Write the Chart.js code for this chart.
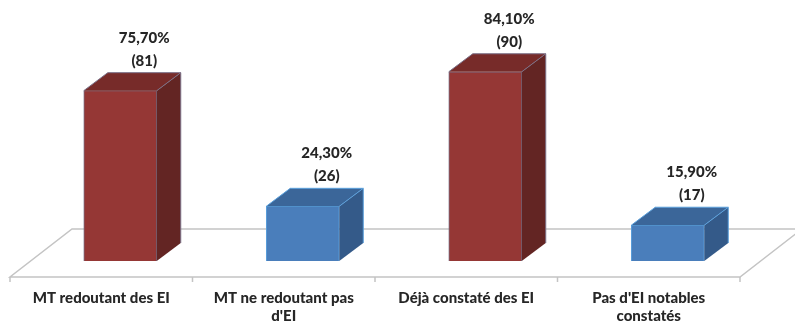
<!DOCTYPE html>
<html>
<head>
<meta charset="utf-8">
<script src="https://cdn.jsdelivr.net/npm/chart.js@4"></script>
<style>
  html, body { margin: 0; padding: 0; background: #fff; }
  #wrap { width: 795px; height: 322px; }
</style>
</head>
<body>
<div id="wrap"><canvas id="barChart" width="795" height="322"></canvas></div>
<script>
const categories = [
  ['MT redoutant des EI'],
  ['MT ne redoutant pas', "d'EI"],
  ['Déjà constaté des EI'],
  ["Pas d'EI notables", 'constatés']
];
const percents = [75.7, 24.3, 84.1, 15.9];
const counts = [81, 26, 90, 17];

// front / top / side shades per bar
const frontColors = ['#953735', '#4a7ebb', '#953735', '#4a7ebb'];
const topColors = ['#772b29', '#3b6699', '#772b29', '#3b6699'];
const sideColors = ['#632523', '#345a89', '#632523', '#345a89'];
const edgeColors = ['#7a6f86', '#5aa0dc', '#7a6f86', '#5aa0dc'];

const DEPTH_X = 24, DEPTH_Y = -18;      // bar extrusion
const FLOOR_FRONT = { x: -19, y: 16 };  // floor front edge vs bar base
const FLOOR_BACK = { x: 43, y: -32 };   // floor back edge vs bar base
const FONT = '900 15px Lato, "Liberation Sans", sans-serif';
const TEXT = '#262626';

const fmtPct = v => v.toFixed(2).replace('.', ',') + '%';

const box3d = {
  id: 'box3d',
  beforeDatasetsDraw(chart) {
    const { ctx, chartArea: a, scales } = chart;
    const y0 = scales.y.getPixelForValue(0);
    const fy = y0 + FLOOR_FRONT.y, by = y0 + FLOOR_BACK.y;
    const fl = a.left + FLOOR_FRONT.x, fr = a.right + FLOOR_FRONT.x;
    ctx.save();
    ctx.strokeStyle = '#c4c4c4';
    ctx.lineWidth = 1.5;
    ctx.beginPath();
    ctx.moveTo(fl, fy);
    ctx.lineTo(fr, fy);
    ctx.lineTo(a.right + FLOOR_BACK.x, by);
    ctx.lineTo(a.left + FLOOR_BACK.x, by);
    ctx.closePath();
    ctx.stroke();
    // category boundary ticks along the front edge
    const step = (a.right - a.left) / categories.length;
    ctx.beginPath();
    for (let i = 0; i <= categories.length; i++) {
      const x = fl + i * step;
      ctx.moveTo(x, fy);
      ctx.lineTo(x, fy + 5);
    }
    ctx.stroke();
    // category labels under the floor
    ctx.fillStyle = TEXT;
    ctx.font = FONT;
    ctx.textAlign = 'center';
    ctx.textBaseline = 'middle';
    categories.forEach((lines, i) => {
      const x = scales.x.getPixelForTick(i) + FLOOR_FRONT.x;
      lines.forEach((t, j) => ctx.fillText(t, x, fy + 21 + j * 18));
    });
    ctx.restore();
  },
  afterDatasetsDraw(chart) {
    const { ctx } = chart;
    const meta = chart.getDatasetMeta(0);
    ctx.save();
    meta.data.forEach((bar, i) => {
      const { x, y, base, width } = bar.getProps(['x', 'y', 'base', 'width'], true);
      const l = x - width / 2, r = x + width / 2;
      // top face
      ctx.fillStyle = topColors[i];
      ctx.beginPath();
      ctx.moveTo(l, y);
      ctx.lineTo(l + DEPTH_X, y + DEPTH_Y);
      ctx.lineTo(r + DEPTH_X, y + DEPTH_Y);
      ctx.lineTo(r, y);
      ctx.closePath();
      ctx.fill();
      // side face
      ctx.fillStyle = sideColors[i];
      ctx.beginPath();
      ctx.moveTo(r, y);
      ctx.lineTo(r + DEPTH_X, y + DEPTH_Y);
      ctx.lineTo(r + DEPTH_X, base + DEPTH_Y);
      ctx.lineTo(r, base);
      ctx.closePath();
      ctx.fill();
      ctx.strokeStyle = edgeColors[i];
      ctx.lineWidth = 1;
      ctx.beginPath();
      ctx.moveTo(l, y);
      ctx.lineTo(l + DEPTH_X, y + DEPTH_Y);
      ctx.lineTo(r + DEPTH_X, y + DEPTH_Y);
      ctx.lineTo(r + DEPTH_X, base + DEPTH_Y);
      ctx.moveTo(r + DEPTH_X, y + DEPTH_Y);
      ctx.lineTo(r, y);
      ctx.stroke();
      // value labels
      ctx.fillStyle = TEXT;
      ctx.font = FONT;
      ctx.textAlign = 'center';
      ctx.textBaseline = 'middle';
      ctx.fillText(fmtPct(percents[i]), x + 24, y - 53);
      ctx.fillText('(' + counts[i] + ')', x + 24, y - 30);
    });
    ctx.restore();
  }
};

new Chart(document.getElementById('barChart'), {
  type: 'bar',
  data: {
    labels: categories,
    datasets: [{
      data: percents,
      backgroundColor: frontColors,
      borderColor: edgeColors,
      borderWidth: 1,
      barThickness: 73
    }]
  },
  options: {
    responsive: false,
    animation: false,
    layout: { padding: { top: 36, bottom: 61, left: 29, right: 36 } },
    plugins: { legend: { display: false }, tooltip: { enabled: false } },
    scales: {
      x: { display: false },
      y: { display: false, min: 0, max: 100 }
    }
  },
  plugins: [box3d]
});
</script>
</body>
</html>
